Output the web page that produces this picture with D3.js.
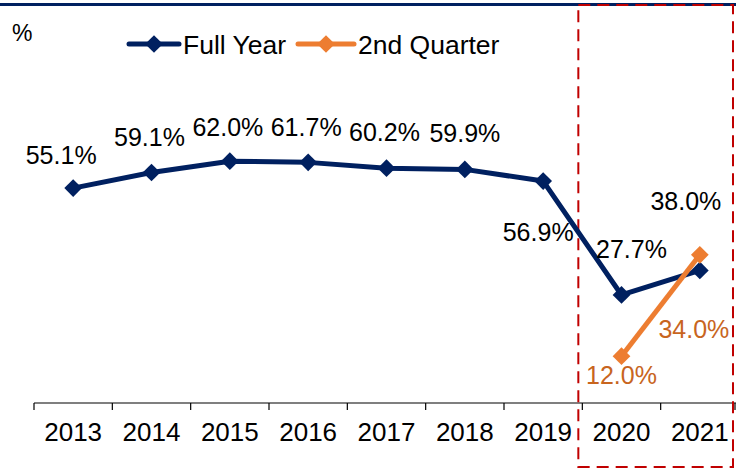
<!DOCTYPE html>
<html>
<head>
<meta charset="utf-8">
<script src="https://cdn.jsdelivr.net/npm/d3@7/dist/d3.min.js"></script>
<style>
  html, body { margin: 0; padding: 0; background: #fff; }
  svg { display: block; font-family: "Liberation Sans", Arial, sans-serif; }
</style>
</head>
<body>
<svg id="chart" width="736" height="471"></svg>
<script>
// data
const years = ["2013", "2014", "2015", "2016", "2017", "2018", "2019", "2020", "2021"]
const fullYear = [55.1, 59.1, 62.0, 61.7, 60.2, 59.9, 56.9, 27.7, 34.0]
const fullYearLabels = ["55.1%", "59.1%", "62.0%", "61.7%", "60.2%", "59.9%", "56.9%", "27.7%", "38.0%"]
const q2Years = ["2020", "2021"]
const q2 = [12.0, 38.0]
const q2Labels = ["12.0%", "34.0%"]

const NAVY = "#002060"
const ORANGE = "#ED7D31"
const ORANGE_TEXT = "#C8651E"
const RED = "#C00000"

// label offsets (dx, dy) from each point
const fullOffsets = [[-12, -33], [-2, -36], [-2, -34], [-2, -35], [-2, -36], [0, -36], [-5, 51], [10, -46], [-14, -69]]
const q2Offsets = [[0, 19], [-6, 74]]

const svg = d3.select("#chart")
const W = 736, H = 471

const x = d3.scaleBand().domain(years).range([34, 739])
const y = d3.scaleLinear().domain([0, 100]).range([403, 13])
const cx = d => x(d) + x.bandwidth() / 2

// top rule
svg.append("rect").attr("x", 0).attr("y", 3).attr("width", W).attr("height", 3).attr("fill", NAVY)

// axis
svg.append("line")
  .attr("x1", 34).attr("x2", W).attr("y1", y(0)).attr("y2", y(0))
  .attr("stroke", "#000").attr("stroke-width", 1.2)
svg.append("g").selectAll("line")
  .data(years.concat(["end"]))
  .enter().append("line")
  .attr("x1", d => d === "end" ? W - 1 : x(d))
  .attr("x2", d => d === "end" ? W - 1 : x(d))
  .attr("y1", y(0)).attr("y2", y(0) + 7)
  .attr("stroke", "#000").attr("stroke-width", 1.2)

const axis = svg.append("g")
  .attr("transform", `translate(0,${y(0)})`)
  .call(d3.axisBottom(x).tickSize(0))
axis.select(".domain").remove()
axis.selectAll("text")
  .attr("y", 29).attr("dy", null)
  .attr("dominant-baseline", "central")
  .attr("font-size", 26)
  .attr("font-family", "Liberation Sans, Arial, sans-serif")
  .attr("fill", "#000")

// % unit
svg.append("text").attr("x", 12).attr("y", 41).attr("font-size", 23).attr("fill", "#000").text("%")

// highlight box
svg.append("rect")
  .attr("x", x("2020") - 4).attr("y", 5)
  .attr("width", W - 3 - (x("2020") - 4)).attr("height", 462)
  .attr("fill", "none").attr("stroke", RED).attr("stroke-width", 2)
  .attr("stroke-dasharray", "12 7")

const diamond = d3.symbol().type(d3.symbolDiamond2).size(200)
const line = d3.line()

// full year series
const fullPts = years.map((yr, i) => [cx(yr), y(fullYear[i])])
svg.append("path").attr("d", line(fullPts))
  .attr("fill", "none").attr("stroke", NAVY).attr("stroke-width", 5).attr("stroke-linejoin", "round")
svg.append("g").selectAll("path").data(fullPts).enter().append("path")
  .attr("d", diamond).attr("transform", d => `translate(${d[0]},${d[1]})`).attr("fill", NAVY)

// 2nd quarter series
const q2Pts = q2Years.map((yr, i) => [cx(yr), y(q2[i])])
svg.append("path").attr("d", line(q2Pts))
  .attr("fill", "none").attr("stroke", ORANGE).attr("stroke-width", 5)
svg.append("g").selectAll("path").data(q2Pts).enter().append("path")
  .attr("d", diamond).attr("transform", d => `translate(${d[0]},${d[1]})`).attr("fill", ORANGE)

// labels
svg.append("g").selectAll("text").data(fullPts).enter().append("text")
  .attr("x", (d, i) => d[0] + fullOffsets[i][0])
  .attr("y", (d, i) => d[1] + fullOffsets[i][1])
  .attr("text-anchor", "middle").attr("dominant-baseline", "central")
  .attr("font-size", 25).attr("fill", "#000")
  .text((d, i) => fullYearLabels[i])
svg.append("g").selectAll("text").data(q2Pts).enter().append("text")
  .attr("x", (d, i) => d[0] + q2Offsets[i][0])
  .attr("y", (d, i) => d[1] + q2Offsets[i][1])
  .attr("text-anchor", "middle").attr("dominant-baseline", "central")
  .attr("font-size", 25).attr("fill", ORANGE_TEXT)
  .text((d, i) => q2Labels[i])

// legend
const legend = [
  { name: "Full Year", color: NAVY, x0: 127, w: 54 },
  { name: "2nd Quarter", color: ORANGE, x0: 296, w: 60 }
]
const lg = svg.append("g").selectAll("g").data(legend).enter().append("g")
  .attr("transform", d => `translate(${d.x0},44)`)
lg.append("line").attr("x1", 2).attr("x2", d => d.w - 2).attr("y1", 0).attr("y2", 0)
  .attr("stroke", d => d.color).attr("stroke-width", 5).attr("stroke-linecap", "round")
lg.append("path").attr("d", diamond).attr("transform", d => `translate(${d.w / 2},0)`).attr("fill", d => d.color)
lg.append("text").attr("x", d => d.w + 2).attr("y", 1).attr("dominant-baseline", "central")
  .attr("font-size", 26.5).attr("fill", "#000").text(d => d.name)
</script>
</body>
</html>
